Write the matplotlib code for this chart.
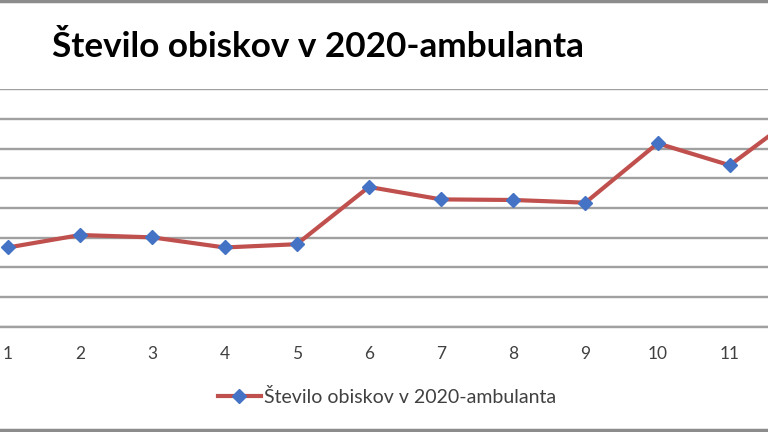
import matplotlib.pyplot as plt
from matplotlib.lines import Line2D

months = list(range(1, 13))
month_labels = [str(m) for m in range(1, 12)] + ['']
visits = [2.67, 3.09, 3.01, 2.67, 2.78, 4.71, 4.29, 4.27, 4.18, 6.18, 5.44, 7.25]
series_name = "Število obiskov v 2020-ambulanta"

plt.rcParams['font.family'] = ['Lato', 'DejaVu Sans']

fig = plt.figure(figsize=(7.68, 4.32), dpi=100)
ax = fig.add_axes([-28 / 768, 105.3 / 432, 866 / 768, 237.4 / 432])

ax.plot(months, visits, color='#c0504d', linewidth=3, marker='D',
        markersize=7, markerfacecolor='#4472c4', markeredgecolor='#4472c4',
        label=series_name, zorder=3)

ax.set_xlim(0.5, 12.5)
ax.set_ylim(0, 8)
ax.set_yticks(range(0, 9))
ax.yaxis.grid(True, color='#a0a0a0', linewidth=1.7)
ax.set_axisbelow(True)
ax.tick_params(axis='y', left=False, labelleft=False)
ax.tick_params(axis='x', length=0, pad=14, labelsize=12.5, labelcolor='#404040')
ax.set_xticks(months)
ax.set_xticklabels(month_labels)
for s in ['top', 'right', 'left']:
    ax.spines[s].set_visible(False)
ax.spines['bottom'].set_color('#a0a0a0')
ax.spines['bottom'].set_linewidth(1.7)

fig.text(52 / 768, 1 - 57 / 432, series_name, fontsize=25.3, fontweight='bold',
         va='baseline', ha='left', color='black')

handle = Line2D([], [], color='#c0504d', linewidth=3, marker='D', markersize=7,
                markerfacecolor='#4472c4', markeredgecolor='#4472c4')
fig.legend([handle], [series_name], loc='center', bbox_to_anchor=(387 / 768, 1 - 397 / 432),
           frameon=False, fontsize=14, handlelength=2.2, handletextpad=0.15,
           labelcolor='#404040')

# outer chart border (top and bottom visible in the crop)
fig.add_artist(Line2D([0, 1], [0.998, 0.998], transform=fig.transFigure, color='#8c8c8c', linewidth=2.5))
fig.add_artist(Line2D([0, 1], [0.004, 0.004], transform=fig.transFigure, color='#8c8c8c', linewidth=2.5))

fig.savefig('out.png', dpi=100)
